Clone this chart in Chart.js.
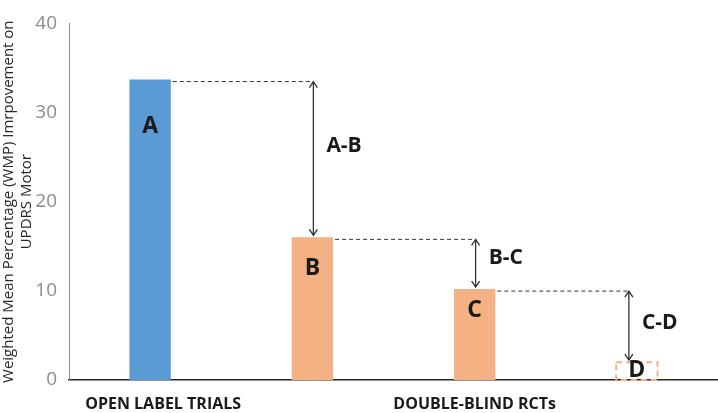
<!DOCTYPE html>
<html>
<head>
<meta charset="utf-8">
<script src="https://cdn.jsdelivr.net/npm/chart.js@4.4.1/dist/chart.umd.min.js"></script>
<style>
  html, body { margin: 0; padding: 0; background: #fff; }
  #wrap { width: 718px; height: 413px; }
</style>
</head>
<body>
<div id="wrap"><canvas id="chart" width="718" height="413"></canvas></div>
<script>
'use strict';

const categories = ['A', 'B', 'C', 'D'];
const values = [33.7, 16.0, 10.2, 2.0];
const barColors = ['#5B9BD5', '#F4B183', '#F4B183', 'rgba(0,0,0,0)'];
const groupLabels = ['OPEN LABEL TRIALS', 'DOUBLE-BLIND RCTs'];
const gapLabels = ['A-B', 'B-C', 'C-D'];
const yTicks = [0, 10, 20, 30, 40];

const BOLD = '"Open Sans", Lato, sans-serif';

// annotations: bar letters, dashed gap lines, arrows, group labels, dashed D box
const annotate = {
    id: 'annotate',
    afterDatasetsDraw(chart) {
        const ctx = chart.ctx;
        const meta = chart.getDatasetMeta(0);
        const y = chart.scales.y;
        const bars = meta.data;

        ctx.save();

        // dashed outline for D
        const d = bars[3];
        ctx.strokeStyle = '#F4B183';
        ctx.lineWidth = 2;
        ctx.setLineDash([6, 4]);
        ctx.strokeRect(d.x - d.width / 2, d.y, d.width, d.base - d.y);

        // letters inside bars
        ctx.setLineDash([]);
        ctx.fillStyle = '#1a1a1a';
        ctx.font = 'bold 23px ' + BOLD;
        ctx.textAlign = 'center';
        ctx.textBaseline = 'middle';
        const letterOffsets = [47, 31, 21, 8];
        bars.forEach((b, i) => {
            const ly = i === 3 ? y.getPixelForValue(0) - 10 : b.y + letterOffsets[i];
            ctx.fillText(categories[i], b.x, ly);
        });

        // gap lines + arrows
        const labelShift = [-12, -5, -3];
        for (let i = 0; i < 3; i++) {
            const from = bars[i];
            const to = bars[i + 1];
            const yTop = y.getPixelForValue(values[i]) + 2;
            const yBot = y.getPixelForValue(values[i + 1]) - 2;
            const ax = to.x + (i === 2 ? -8 : 1);

            ctx.strokeStyle = '#333';
            ctx.lineWidth = 1;
            ctx.setLineDash([4, 3]);
            ctx.beginPath();
            ctx.moveTo(from.x + from.width / 2 + 2, yTop);
            ctx.lineTo(ax, yTop);
            ctx.stroke();

            ctx.setLineDash([]);
            ctx.lineWidth = 1.3;
            ctx.beginPath();
            ctx.moveTo(ax, yTop);
            ctx.lineTo(ax, yBot);
            ctx.moveTo(ax - 4, yTop + 6);
            ctx.lineTo(ax, yTop);
            ctx.lineTo(ax + 4, yTop + 6);
            ctx.moveTo(ax - 4, yBot - 6);
            ctx.lineTo(ax, yBot);
            ctx.lineTo(ax + 4, yBot - 6);
            ctx.stroke();

            ctx.fillStyle = '#1a1a1a';
            ctx.font = 'bold 21px ' + BOLD;
            ctx.textAlign = 'left';
            ctx.fillText(gapLabels[i], ax + 13, (yTop + yBot) / 2 + labelShift[i]);
        }

        // group labels under the axis
        ctx.font = 'bold 16px ' + BOLD;
        ctx.textAlign = 'center';
        ctx.fillStyle = '#1a1a1a';
        const groupX = [bars[0].x + 13, bars[2].x];
        groupLabels.forEach((t, i) => {
            ctx.fillText(t, groupX[i], chart.chartArea.bottom + 24);
        });

        ctx.restore();
    }
};

new Chart(document.getElementById('chart').getContext('2d'), {
    type: 'bar',
    data: {
        labels: categories,
        datasets: [{
            data: values,
            backgroundColor: barColors,
            borderWidth: 0,
            barPercentage: 1,
            categoryPercentage: 0.255
        }]
    },
    options: {
        responsive: false,
        maintainAspectRatio: false,
        animation: false,
        layout: { padding: { top: 22, right: 0, left: 0, bottom: 0 } },
        plugins: { legend: { display: false }, tooltip: { enabled: false } },
        scales: {
            x: {
                grid: { display: false, drawTicks: false },
                border: { color: '#262626', width: 1.5 },
                ticks: { display: false },
                afterFit(scale) { scale.height = 33; }
            },
            y: {
                min: 0,
                max: 40,
                afterBuildTicks(scale) { scale.ticks = yTicks.map(v => ({ value: v })); },
                grid: { display: false, drawTicks: false },
                border: { color: '#8c8c8c', width: 1 },
                ticks: {
                    color: '#8c8c8c',
                    padding: 12,
                    font: { family: 'Open Sans, sans-serif', size: 19 }
                },
                title: {
                    display: true,
                    text: ['Weighted Mean Percentage (WMP) Imrpovement on', 'UPDRS Motor'],
                    color: '#262626',
                    font: { family: 'Open Sans, sans-serif', size: 15 },
                    padding: { top: 0, bottom: 0 }
                },
                afterFit(scale) { scale.width = 69; }
            }
        }
    },
    plugins: [annotate]
});
</script>
</body>
</html>
